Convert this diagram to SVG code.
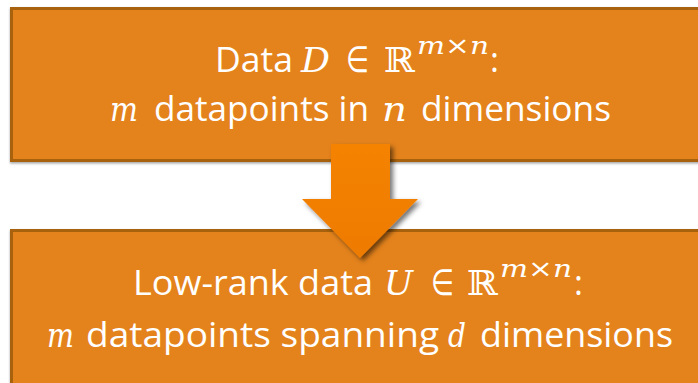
<svg xmlns="http://www.w3.org/2000/svg" width="698" height="383" viewBox="0 0 698 383">
  <style>
    .box { fill: #E4831A; stroke: #A8620F; stroke-width: 3; }
    .t { fill: #FFFFFF; font-family: "Open Sans", "Lato", sans-serif; font-size: 34px; }
    .m { fill: #FFFFFF; font-family: "DejaVu Serif", "Liberation Serif", serif; font-style: italic; font-size: 34px; }
    .e { fill: #FFFFFF; font-family: "DejaVu Sans", sans-serif; font-size: 36px; }
    .r { fill: #FFFFFF; font-family: "DejaVu Serif", serif; font-size: 34px; }
    .s { fill: #FFFFFF; font-family: "DejaVu Serif", "Liberation Serif", serif; font-style: italic; font-size: 25px; }
  </style>
  <defs>
    <filter id="boxShadow" x="-5%" y="-10%" width="110%" height="130%">
      <feDropShadow dx="0" dy="1.5" stdDeviation="1" flood-color="#000000" flood-opacity="0.35"/>
    </filter>
    <filter id="arrowShadow" x="-30%" y="-30%" width="160%" height="160%">
      <feDropShadow dx="3" dy="3" stdDeviation="2.5" flood-color="#000000" flood-opacity="0.55"/>
    </filter>
    <linearGradient id="arrowGrad" x1="0" y1="0" x2="0" y2="1">
      <stop offset="0" stop-color="#F58300"/>
      <stop offset="1" stop-color="#EE7B05"/>
    </linearGradient>
  </defs>

  <rect width="698" height="383" fill="#FFFFFF"/>

  <g id="node-data">
    <rect class="box" x="11.5" y="8.5" width="720" height="152" filter="url(#boxShadow)"/>
    <text class="t" x="215" y="72" textLength="78" lengthAdjust="spacingAndGlyphs">Data</text>
    <text class="m" x="301" y="72" textLength="29" lengthAdjust="spacingAndGlyphs">D</text>
    <text class="e" x="346" y="72" textLength="23" lengthAdjust="spacingAndGlyphs">∈</text>
    <text class="r" x="384" y="72" textLength="31" lengthAdjust="spacingAndGlyphs">ℝ</text>
    <text class="s" x="417" y="54" textLength="72" lengthAdjust="spacingAndGlyphs">m×n</text>
    <text class="t" x="490" y="72">:</text>
    <text class="m" x="110" y="121" textLength="28" lengthAdjust="spacingAndGlyphs">m</text>
    <text class="t" x="154" y="121" textLength="215" lengthAdjust="spacingAndGlyphs">datapoints in</text>
    <text class="m" x="382" y="121" textLength="25" lengthAdjust="spacingAndGlyphs">n</text>
    <text class="t" x="421" y="121" textLength="190" lengthAdjust="spacingAndGlyphs">dimensions</text>
  </g>

  <g id="node-lowrank">
    <rect class="box" x="11.5" y="230.5" width="720" height="170" filter="url(#boxShadow)"/>
    <text class="t" x="133" y="295" textLength="240" lengthAdjust="spacingAndGlyphs">Low-rank data</text>
    <text class="m" x="384" y="295" textLength="29" lengthAdjust="spacingAndGlyphs">U</text>
    <text class="e" x="431" y="295" textLength="23" lengthAdjust="spacingAndGlyphs">∈</text>
    <text class="r" x="467" y="295" textLength="31" lengthAdjust="spacingAndGlyphs">ℝ</text>
    <text class="s" x="500" y="277" textLength="72" lengthAdjust="spacingAndGlyphs">m×n</text>
    <text class="t" x="574" y="295">:</text>
    <text class="m" x="47" y="347" textLength="27" lengthAdjust="spacingAndGlyphs">m</text>
    <text class="t" x="86" y="347" textLength="353" lengthAdjust="spacingAndGlyphs">datapoints spanning</text>
    <text class="m" x="448" y="347" textLength="18" lengthAdjust="spacingAndGlyphs">d</text>
    <text class="t" x="480" y="347" textLength="193" lengthAdjust="spacingAndGlyphs">dimensions</text>
  </g>

  <g id="connectors">
    <path id="arrow-data-lowrank" d="M331 144 H390 V199 H418 L360 258 L302 199 H331 Z" fill="url(#arrowGrad)" filter="url(#arrowShadow)"/>
  </g>
</svg>
